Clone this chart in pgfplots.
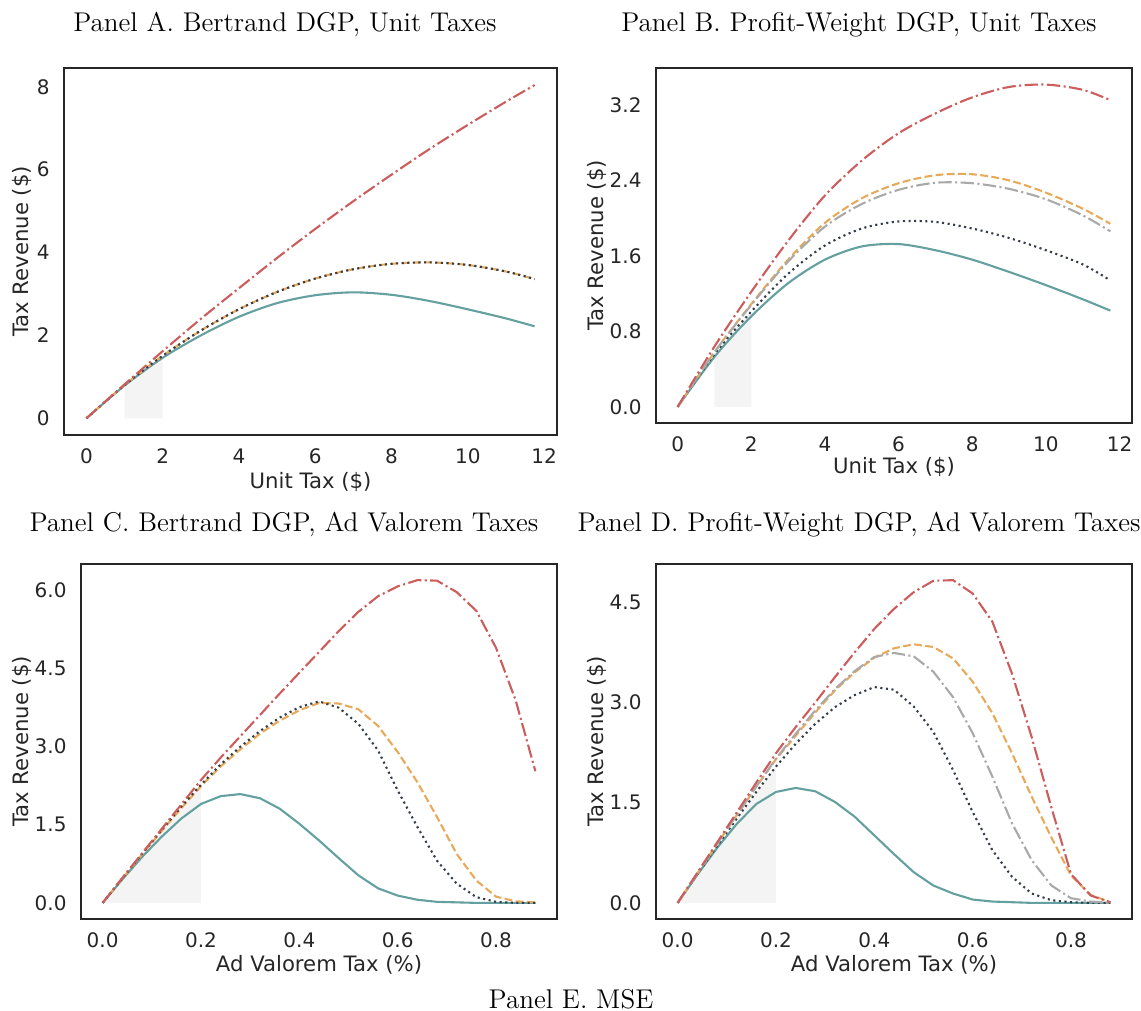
\documentclass[border=0pt]{standalone}
\usepackage{fontspec}
\usepackage{pgfplots}
\pgfplotsset{compat=1.18}
\newfontfamily\dejavu{DejaVu Sans}
\definecolor{cteal}{HTML}{64A0A0}
\definecolor{cred}{HTML}{CD5C5C}
\definecolor{corange}{HTML}{E8AA5A}
\definecolor{cgray}{HTML}{A9A9A9}
\definecolor{cdot}{HTML}{353C4A}
\definecolor{cshade}{HTML}{F4F4F4}
\definecolor{ctext}{HTML}{262626}
\newcommand{\sfs}{\dejavu\fontsize{10}{12}\selectfont}
\newcommand{\sfl}{\dejavu\fontsize{10.6}{12.5}\selectfont}
\pgfplotsset{
  panel/.style={scale only axis, anchor=north west,
    axis line style={draw=ctext, line width=0.75pt},
    major tick length=0pt, tick style={draw=none},
    tick label style={font=\sfs, text=ctext},
    /pgf/number format/assume math mode=true,
    xticklabel shift=3.2pt, yticklabel shift=3.7pt},
  xlab/.style={every axis x label/.style={at={(axis description cs:0.5,#1)}, anchor=center, font=\sfl, text=ctext}},
  ylab/.style={every axis y label/.style={at={(axis description cs:#1,0.5)}, anchor=center, rotate=90, font=\sfl, text=ctext}},
  steal/.style={draw=cteal, line width=1.05pt, solid},
  sdot/.style={draw=cdot, line width=1.05pt, dash pattern=on 1.05pt off 1.75pt},
  sorange/.style={draw=corange, line width=1.05pt, dash pattern=on 3.9pt off 1.7pt},
  sgray/.style={draw=cgray, line width=1.05pt, dash pattern=on 6.7pt off 1.7pt on 1.05pt off 1.7pt},
  sred/.style={draw=cred, line width=1.05pt, dash pattern=on 6.7pt off 1.7pt on 1.05pt off 1.7pt},
}
\newcommand{\ttl}{\fontsize{13.55}{16}\selectfont}
\begin{document}
\begin{tikzpicture}
\path[use as bounding box] (0pt,0pt) rectangle (570.5pt,-505.5pt);
\node[anchor=base] at (142.5pt,-16pt) {\ttl Panel A. Bertrand DGP, Unit Taxes};
\node[anchor=base] at (429.5pt,-16pt) {\ttl Panel B. Profit-Weight DGP, Unit Taxes};
\node[anchor=base] at (142pt,-265.5pt) {\ttl Panel C. Bertrand DGP, Ad Valorem Taxes};
\node[anchor=base] at (429.5pt,-265.5pt) {\ttl Panel D. Profit-Weight DGP, Ad Valorem Taxes};
\node[anchor=base] at (285.5pt,-504pt) {\ttl Panel E. MSE};

% Panel A
\begin{axis}[panel, at={(32pt,-34pt)}, width=246.5pt, height=183.5pt,
  xmin=-0.5875, xmax=12.3375, ymin=-0.4025, ymax=8.4525,
  xtick={0,2,4,6,8,10,12}, ytick={0,2,4,6,8},
  xlab=-0.128, ylab=-0.0852,
  xlabel={Unit Tax (\$)}, ylabel={Tax Revenue (\$)}]
\addplot[fill=cshade, draw=none] coordinates {(1,0.802)(1.5,1.167)(2,1.508)} \closedcycle;
\addplot[steal, smooth] coordinates {(0,0)(1,0.79)(2,1.46)(3,2.0)(4,2.45)(5,2.78)(6,2.97)(7,3.04)(8,2.98)(9,2.83)(10,2.63)(11,2.41)(11.75,2.22)};
\addplot[sorange, smooth] coordinates {(0,0)(1,0.802)(2,1.508)(3,2.118)(4,2.632)(5,3.05)(6,3.372)(7,3.598)(8,3.728)(9,3.762)(10,3.70)(11,3.542)(11.75,3.36)};
\addplot[sdot, smooth] coordinates {(0,0)(1,0.802)(2,1.508)(3,2.118)(4,2.632)(5,3.05)(6,3.372)(7,3.598)(8,3.728)(9,3.762)(10,3.70)(11,3.542)(11.75,3.36)};
\addplot[sred, smooth] coordinates {(0,0)(1,0.82)(2,1.62)(3,2.40)(4,3.14)(5,3.87)(6,4.57)(7,5.24)(8,5.88)(9,6.5)(10,7.08)(11,7.64)(11.75,8.04)};
\end{axis}

% Panel B
\begin{axis}[panel, at={(328pt,-34pt)}, width=238pt, height=177.5pt,
  xmin=-0.5875, xmax=12.3375, ymin=-0.171, ymax=3.591,
  xtick={0,2,4,6,8,10,12}, ytick={0,0.8,1.6,2.4,3.2},
  yticklabels={0.0,0.8,1.6,2.4,3.2},
  xlab=-0.124, ylab=-0.124,
  xlabel={Unit Tax (\$)}, ylabel={Tax Revenue (\$)}]
\addplot[fill=cshade, draw=none] coordinates {(1,0.56)(1.5,0.8)(2,1.01)} \closedcycle;
\addplot[steal, smooth] coordinates {(0,0)(1,0.53)(2,0.96)(3,1.31)(4,1.56)(5,1.70)(6,1.725)(7,1.66)(8,1.56)(9,1.43)(10,1.29)(11,1.14)(11.75,1.02)};
\addplot[sdot, smooth] coordinates {(0,0)(1,0.56)(2,1.01)(3,1.41)(4,1.71)(5,1.89)(6,1.965)(7,1.96)(8,1.89)(9,1.79)(10,1.66)(11,1.51)(11.75,1.34)};
\addplot[sorange, smooth] coordinates {(0,0)(1,0.58)(2,1.09)(3,1.56)(4,1.95)(5,2.21)(6,2.37)(7,2.455)(8,2.465)(9,2.40)(10,2.27)(11,2.10)(11.75,1.94)};
\addplot[sgray, smooth] coordinates {(0,0)(1,0.58)(2,1.08)(3,1.54)(4,1.91)(5,2.15)(6,2.30)(7,2.375)(8,2.37)(9,2.31)(10,2.20)(11,2.03)(11.75,1.86)};
\addplot[sred, smooth] coordinates {(0,0)(1,0.64)(2,1.22)(3,1.76)(4,2.24)(5,2.61)(6,2.90)(7,3.11)(8,3.28)(9,3.39)(10,3.415)(11,3.36)(11.75,3.25)};
\end{axis}

% Panel C
\begin{axis}[panel, at={(40.5pt,-282pt)}, width=238pt, height=177.5pt,
  xmin=-0.044, xmax=0.924, ymin=-0.31, ymax=6.51,
  xtick={0,0.2,0.4,0.6,0.8}, xticklabels={0.0,0.2,0.4,0.6,0.8},
  ytick={0,1.5,3,4.5,6}, yticklabels={0.0,1.5,3.0,4.5,6.0},
  xlab=-0.1296, ylab=-0.124,
  xlabel={Ad Valorem Tax (\%)}, ylabel={Tax Revenue (\$)}]
\addplot[fill=cshade, draw=none] coordinates {(0,0)(0.04,0.47)(0.08,0.94)(0.12,1.40)(0.16,1.85)(0.2,2.27)} \closedcycle;
\addplot[steal] coordinates {(0,0)(0.04,0.45)(0.08,0.88)(0.12,1.27)(0.16,1.62)(0.2,1.9)(0.24,2.05)(0.28,2.09)(0.32,2.01)(0.36,1.81)(0.4,1.52)(0.44,1.2)(0.48,0.86)(0.52,0.53)(0.56,0.28)(0.6,0.14)(0.64,0.06)(0.68,0.02)(0.72,0.01)(0.76,0)(0.8,0)(0.84,0)(0.88,0)};
\addplot[sorange] coordinates {(0,0)(0.04,0.47)(0.08,0.93)(0.12,1.38)(0.16,1.82)(0.2,2.24)(0.24,2.62)(0.28,2.95)(0.32,3.25)(0.36,3.5)(0.4,3.7)(0.44,3.84)(0.48,3.83)(0.52,3.72)(0.56,3.4)(0.6,2.9)(0.64,2.32)(0.68,1.65)(0.72,0.94)(0.76,0.43)(0.8,0.12)(0.84,0.03)(0.88,0.01)};
\addplot[sdot] coordinates {(0,0)(0.04,0.47)(0.08,0.94)(0.12,1.40)(0.16,1.85)(0.2,2.27)(0.24,2.66)(0.28,3.0)(0.32,3.3)(0.36,3.56)(0.4,3.76)(0.44,3.87)(0.48,3.75)(0.52,3.44)(0.56,2.93)(0.6,2.16)(0.64,1.46)(0.68,0.81)(0.72,0.37)(0.76,0.11)(0.8,0.02)(0.84,0)(0.88,0)};
\addplot[sred] coordinates {(0,0)(0.04,0.48)(0.08,0.95)(0.12,1.42)(0.16,1.89)(0.2,2.36)(0.24,2.79)(0.28,3.2)(0.32,3.61)(0.36,4.02)(0.4,4.42)(0.44,4.82)(0.48,5.22)(0.52,5.59)(0.56,5.89)(0.6,6.08)(0.64,6.2)(0.68,6.19)(0.72,5.97)(0.76,5.61)(0.8,4.9)(0.84,3.89)(0.88,2.53)};
\end{axis}

% Panel D
\begin{axis}[panel, at={(328pt,-282pt)}, width=238pt, height=177.5pt,
  xmin=-0.044, xmax=0.924, ymin=-0.2415, ymax=5.0715,
  xtick={0,0.2,0.4,0.6,0.8}, xticklabels={0.0,0.2,0.4,0.6,0.8},
  ytick={0,1.5,3,4.5}, yticklabels={0.0,1.5,3.0,4.5},
  xlab=-0.1296, ylab=-0.124,
  xlabel={Ad Valorem Tax (\%)}, ylabel={Tax Revenue (\$)}]
\addplot[fill=cshade, draw=none] coordinates {(0,0)(0.04,0.43)(0.08,0.85)(0.12,1.26)(0.16,1.66)(0.2,2.04)} \closedcycle;
\addplot[steal] coordinates {(0,0)(0.04,0.42)(0.08,0.82)(0.12,1.18)(0.16,1.48)(0.2,1.66)(0.24,1.72)(0.28,1.67)(0.32,1.51)(0.36,1.29)(0.4,1.01)(0.44,0.73)(0.48,0.46)(0.52,0.26)(0.56,0.14)(0.6,0.05)(0.64,0.02)(0.68,0.01)(0.72,0)(0.76,0)(0.8,0)(0.84,0)(0.88,0)};
\addplot[sdot] coordinates {(0,0)(0.04,0.43)(0.08,0.85)(0.12,1.26)(0.16,1.66)(0.2,2.04)(0.24,2.38)(0.28,2.68)(0.32,2.93)(0.36,3.11)(0.4,3.23)(0.44,3.19)(0.48,2.94)(0.52,2.56)(0.56,1.99)(0.6,1.36)(0.64,0.79)(0.68,0.39)(0.72,0.14)(0.76,0.04)(0.8,0.01)(0.84,0)(0.88,0)};
\addplot[sorange] coordinates {(0,0)(0.04,0.44)(0.08,0.88)(0.12,1.31)(0.16,1.74)(0.2,2.15)(0.24,2.5)(0.28,2.85)(0.32,3.18)(0.36,3.45)(0.4,3.67)(0.44,3.81)(0.48,3.87)(0.52,3.83)(0.56,3.66)(0.6,3.31)(0.64,2.84)(0.68,2.24)(0.72,1.59)(0.76,0.98)(0.8,0.41)(0.84,0.12)(0.88,0.01)};
\addplot[sgray] coordinates {(0,0)(0.04,0.44)(0.08,0.88)(0.12,1.31)(0.16,1.74)(0.2,2.16)(0.24,2.53)(0.28,2.88)(0.32,3.2)(0.36,3.47)(0.4,3.68)(0.44,3.74)(0.48,3.69)(0.52,3.46)(0.56,3.08)(0.6,2.54)(0.64,1.89)(0.68,1.19)(0.72,0.64)(0.76,0.26)(0.8,0.07)(0.84,0.02)(0.88,0)};
\addplot[sred] coordinates {(0,0)(0.04,0.45)(0.08,0.9)(0.12,1.35)(0.16,1.8)(0.2,2.24)(0.24,2.63)(0.28,3.0)(0.32,3.38)(0.36,3.75)(0.4,4.1)(0.44,4.4)(0.48,4.65)(0.52,4.82)(0.56,4.83)(0.6,4.63)(0.64,4.21)(0.68,3.43)(0.72,2.48)(0.76,1.43)(0.8,0.43)(0.84,0.11)(0.88,0.01)};
\end{axis}
\end{tikzpicture}
\end{document}
